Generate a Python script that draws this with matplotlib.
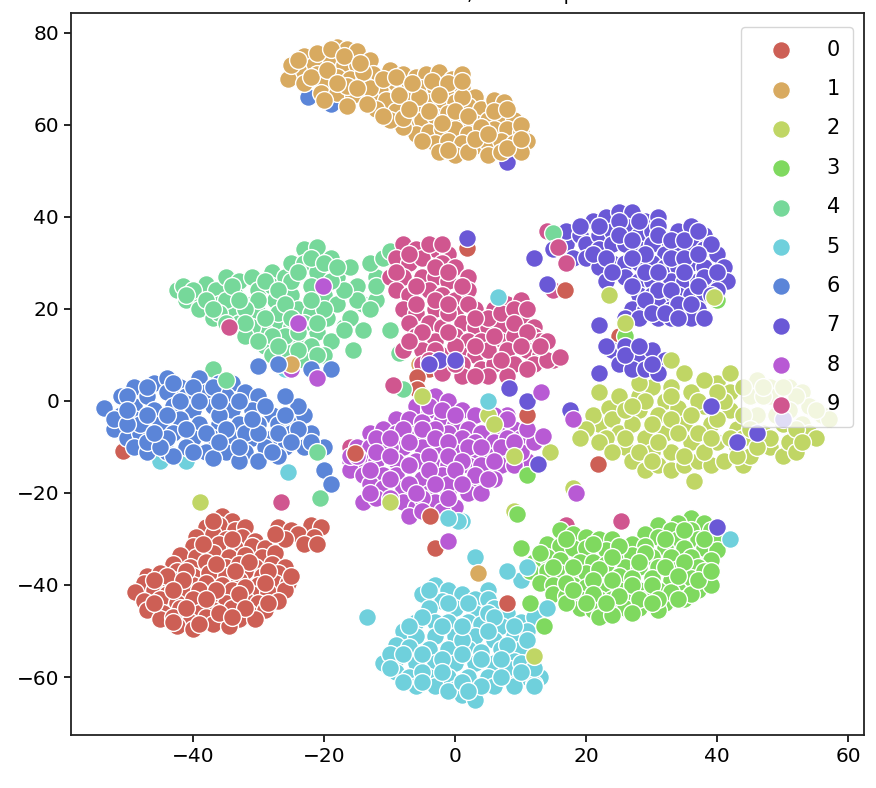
import matplotlib
matplotlib.use('Agg')
import matplotlib.pyplot as plt

# colours picked off the legend
colors = ['#cd5f55', '#d8aa60', '#c0d665', '#7fd95f', '#76d89a',
          '#6fd0dc', '#5b85d8', '#6a58d6', '#b85ad4', '#d0568f']
labels = ['0', '1', '2', '3', '4', '5', '6', '7', '8', '9']

# points, class by class
c0 = [(-35.5,-25),(-34,-26),(-38,-27.5),(-36,-27),(-33.5,-28),(-32,-27.5),(-39.5,-29.5),(-37,-29),(-35,-30),(-32.5,-29.5),(-30.5,-30.5),
      (-40,-31.5),(-38,-32),(-36,-31),(-33.5,-32),(-31,-31.5),(-29,-32),(-42,-33.5),(-39.5,-34),(-37,-33),(-34.5,-34),(-32,-33.5),(-29.5,-34),(-27.5,-33),
      (-43,-35.5),(-40.5,-36),(-38,-35),(-35,-36),(-33,-35.5),(-30.5,-36),(-28,-35.5),(-26,-36),(-47,-38),(-45,-37.5),(-42.5,-37),(-40,-38),(-37.5,-37.5),(-35,-38),(-32,-37),(-29.5,-38),(-27,-37.5),
      (-47.5,-39.5),(-45,-40),(-43,-39),(-40,-40),(-38,-39.5),(-35.5,-40),(-33,-39),(-30,-40),(-27.5,-39.5),(-25.5,-39.5),(-48.8,-41.5),(-46,-41),(-44,-42),(-41,-41.5),(-39,-41),(-36,-42),(-34,-41),(-31,-42),(-28.5,-41.5),(-26,-41),
      (-47.5,-43.5),(-45,-43),(-42.5,-44),(-40,-43),(-37.5,-43.5),(-35,-44),(-32,-43),(-30,-44),(-27,-43.5),(-47,-45.5),(-44.5,-46),(-42,-45),(-39,-46),(-37,-45.5),(-34,-45),(-31.5,-46),(-29,-45.5),
      (-45,-47.5),(-43,-47),(-40.5,-48),(-38,-47),(-35.5,-48),(-33,-47.5),(-30.5,-47.5),(-42.5,-49),(-40,-49.5),(-37,-48.5),(-34.5,-49),
      (-27,-27.5),(-25,-28),(-22,-27),(-20.5,-27.5),(-24,-29),(-21.5,-29.5),(-26,-30),(-23,-31),(-27.5,-29),(-21,-31),
      (-37,-26),(-34,-30),(-38.5,-31),(-31.5,-35),(-36.5,-35.5),(-41,-37),(-44,-38),(-33.5,-37),(-28.5,-37),(-46,-39),(-41.5,-39),(-36.5,-41),(-32,-40.5),(-29,-39.5),(-43,-41),(-38,-43),(-33,-42),(-28.5,-44),
      (-46,-44),(-41,-45),(-36,-46),(-32,-45),(-43,-48),(-39,-48.5),(-34,-47),(-25,-38)]
c1 = [(-23,75),(-21.5,73),(-18,77),(-16.5,76.5),(-15,76),(-13,74),(-24,72),(-21,71),(-19,74),(-17,73),(-15,73),(-12.5,71),(-10,72),(-8,71),(-6,70.5),
      (-25.5,70),(-23,69),(-20,69),(-18,70.5),(-16,70),(-14,69),(-11.5,68),(-9,69),(-7,68),(-4.5,71),(-2.5,71.5),(-0.5,70),(1,71),
      (-20.5,67),(-18,67),(-15.5,66.5),(-13,66),(-10.5,65.5),(-7.5,65.5),(-5,68),(-3,68),(-1,67.5),(1,68),(3,66),(-16.5,64),(-12,63.5),(-9,63),
      (-6,63),(-4,65),(-2,65),(0,65),(2,64),(4,63.5),(6,65.5),(7.5,65),(-7,60.5),(-5,61),(-3,62),(-1,62.5),(1,61),(3,60.5),(5,61),(7,62),(9,61),
      (-6,58),(-4,58.5),(-2,59),(0,59),(2,58),(4,58),(6,59),(8,59),(10,58.5),(-3,56),(-1,56.5),(1,56),(3,55.5),(5,56),(7,56.5),(9,56),(11,56.5),
      (-2.5,54),(0,53.5),(2,54),(5,53.5),(7,54),(10,54),(-8,59.5),(-10,61),(-13,68),(-21,75.5),(-19,76.5),
      (-25,73),(-22,70.5),(-19.5,72),(-16.5,68.5),(-14,71.5),(-11,70),(-8.5,66.5),(-5.5,66),(-3.5,69.5),(-1,69),(1,66),(-13.5,64.5),(-11,62),(-8,61.5),(-4,63),(-2,60.5),(0,63),(2,62),(4,59.5),(6,63),(8,63.5),
      (10,60),(-5,56.5),(-1,54.5),(3,57),(5,58),(8,55),(10,57),(-24,74),(-17,75),(-14.5,73.5),(-9,70.5),(-6.5,69),(-2.5,66.5),(1,69.5),(-7,63.5),(-18,69),(-20,65.5),(-15,68)]
c2 = [(22,-5),(21,-3),(23.5,-1.5),(25,1),(24,-4),(25,-7),(23,-8),(26,-10),(27,-13),(29,-15),(31,-14),(28,-2),(27,-5),(29,-8),(30,-11),(33,-15),(35,-14),
      (28,1),(30,3),(32,0),(31,-3),(32,-7),(33,-11),(34,-1.5),(36,2),(35,-5),(36,-9),(37,-13),(39,-14),(38,-1),(40,4),(38,4.5),(39,-5),(40,-9),(41,-13),(44,-14),
      (42,2),(42,-2),(43,-6),(43,-10),(45,-12),(45,1),(46,4.5),(48,3),(46,-3),(47,-7),(48,-10),(50,-12),(48,1),(51,3),(50,-1),(50,-5),(51,-9),(52,-11),
      (53,2),(54,-1),(53,-5),(54,-7),(56,-3),(57,-4),(55,-8),(31,7),(28,4),(35,6),(42,6),(33,-4),(37,-7),(44,-8),(26,-2),(30,-5),(47,1),(52,1),
      (20,-6),(22,-9),(24,-11),(28,-11),(31,-9),(34,-7),(29,0),(33,3),(37,0),(41,0),(44,-3),(40,-4),(38,-11),(35,-12),(42,-8),(45,-6),(49,-3),(48,-8),(52,-6),(55,-2),(44,3),(50,3),
      (26,-8),(30,-13),(40,2),(36,-3),(46,-10),(53,-9),(33,1),(27,-1),(39,-8),(43,-12),(47,3),(51,-2)]
c3 = [(36,-25.5),(34,-26.5),(38,-26.5),(31,-27),(33,-28),(36,-28),(39,-28),(29,-29),(31,-29.5),(34,-30),(37,-30),(40,-30),(16,-28),(18,-29),(20,-29.5),(22,-30),(24,-30),(27,-31),
      (29,-31.5),(32,-32),(35,-32),(38,-32),(40,-32.5),(14,-31),(16,-31.5),(18,-32),(20,-32),(23,-32.5),(25,-33),(27,-33.5),(30,-34),(33,-34),(36,-34),(39,-34.5),
      (12,-35),(14,-34),(16,-34.5),(19,-35),(21,-35),(23,-35.5),(26,-36),(28,-36),(31,-36),(34,-36.5),(37,-36),(11.5,-37),(14,-37),(16,-37.5),(18,-38),(20,-37.5),(22,-38),(25,-38),
      (27,-38.5),(30,-38.5),(33,-39),(36,-38.5),(13,-39.5),(15,-40),(18,-40),(20,-40.5),(23,-40.5),(25,-41),(28,-41),(31,-41),(34,-41),(37,-41),(39,-40),(15,-42),(17,-42.5),(19,-43),
      (22,-43),(24,-43),(26,-43.5),(29,-43),(32,-44),(35,-43),(19,-45),(21,-45.5),(23,-45.5),(26,-45),(28,-45),(31,-45.5),(22,-47),(36,-42),(33,-41.5),(24,-46.5),(17,-44),
      (13,-33),(17,-30),(21,-31),(25,-31.5),(29,-33),(32,-30),(35,-28),(38,-30),(15,-36),(18,-36),(22,-36.5),(24,-34),(28,-35),(32,-36),(35,-35),(38,-37),(17,-39.5),(21,-39),(24,-39),(27,-40),(30,-40),(34,-38),
      (18,-41),(21,-42),(25,-42.5),(28,-43),(31,-43),(34,-43),(20,-44),(23,-44),(27,-46),(30,-44),(37,-39),(39,-37)]
c4 = [(-42.5,24),(-41,22),(-41.5,25),(-39,23),(-38,25.5),(-36.5,24),(-36,21),(-39,20),(-35,27),(-33,26),(-33.5,23),(-31,27),(-30,24),(-28,28),(-31,21),(-34,19),(-37,18),(-33,17),
      (-30,19),(-28,25),(-26,27),(-25,30),(-27.5,22),(-25,23),(-23,33),(-21,33.5),(-23,30),(-21,28),(-22,25),(-24,20),(-27,17),(-29,15),(-25,16),(-22,19),(-19,31),(-18,27),(-20,23),
      (-19.5,18),(-16,29),(-15,25),(-14,21),(-18,21),(-17,16),(-21,15),(-24,13),(-26,11),(-22,12),(-19,13),(-29,12),(-31,16),(-26,14),(-20,10),(-23,9),(-28,10),(-15,22),(-12,22),(-12,27),(-13,30),
      (-11,31),(-10,32.5),(-12,25),(-16,18),(-13,20),(-17,24),(-25,26),(-30,22),(-35,22),(-40,24),(-36,19),(-32,14),(-27,19),(-23,17),(-20,20),
      (-38,22),(-34,25),(-32,20),(-29,26),(-27,24),(-26,21),(-24,28),(-22,31),(-20,30),(-29,18),(-32,17),(-35,17),(-28,14),(-24,15),(-22,22),(-19,26),(-21,17),(-18,29),(-25,18),(-30,13),(-27,12),(-24,11),(-21,10),(-33,22),(-37,20),(-41,23)]
c5 = [(-3,-40),(-1,-41),(1,-42),(3,-43),(5,-43),(-5,-42),(-2,-43.5),(0,-45),(3,-46),(6,-45),(8,-46),(-4,-45),(-6,-48),(-3,-48),(-1,-48),(2,-48),(4,-48.5),(7,-49),(10,-48),(12,-47),
      (-8,-50),(-6,-51),(-3,-51),(0,-51),(3,-51),(6,-52),(9,-51),(11,-50),(-9,-53),(-7,-53.5),(-4,-54),(-1,-54),(2,-54),(4,-54.5),(7,-54),(10,-54),(-11,-57),(-9,-56),(-6,-57),(-3,-57),
      (0,-57),(3,-57),(6,-57),(9,-56.5),(11,-57),(-9,-59),(-7,-60),(-4,-60),(-1,-60),(2,-60),(5,-60),(8,-59),(11,-60),(13,-60),(-6,-62),(-3,-62),(0,-62.5),(3,-63),(6,-62),(9,-62),(12,-61.5),
      (1,-64),(3,-65),(-1,-63),(-10,-55),(-5,-59),(1,-52),(5,-46),(8,-58),(10,-57),(12,-58),
      (-4,-41),(-1,-44),(2,-44),(6,-47),(9,-49),(-5,-47),(-7,-49),(-2,-49),(1,-49),(5,-50),(8,-53),(11,-52),(-8,-55),(-5,-55),(-2,-56),(1,-55),(4,-56),(7,-56),(-10,-58),(-8,-61),(-5,-61),(-2,-59),(1,-61),(4,-62),(7,-60),(10,-59),(12,-62),(2,-63)]
c6 = [(-53.5,-1.5),(-51,1),(-49,3),(-46,4),(-44,5),(-42,3),(-39,5),(-36,4),(-34,4),(-51,-3),(-49,-1),(-47,1),(-44,2),(-41,1),(-38,2),(-35,1),(-32,2),(-30,1),(-52,-6),(-49,-4),(-46,-2),
      (-43,-1),(-40,-2),(-37,-1),(-34,-2),(-31,-2),(-28,-3),(-50,-8),(-48,-7),(-45,-5),(-42,-4),(-39,-5),(-36,-5),(-33,-5),(-30,-5),(-27,-5),(-25,-4),(-23,-3),(-49,-10),(-46,-9),(-43,-7),
      (-40,-8),(-37,-8),(-34,-8),(-31,-8),(-28,-8),(-25,-7),(-22,-7),(-24,-1),(-26,1),(-47,-11),(-44,-11),(-41,-10),(-38,-11),(-35,-11),(-32,-11),(-29,-10),(-26,-10),(-23,-10),(-20,-10),
      (-43,-12),(-37,-12.5),(-33,-13),(-30,-13),(-27,-12),(-48,-5),(-36,-3),(-44,-3),(-52,-4),(-32,-7),(-41,-6),
      (-50,1),(-47,3),(-43,4),(-40,3),(-37,3),(-33,0),(-29,-1),(-50,-5),(-47,-3),(-42,0),(-39,0),(-36,0),(-26,-3),(-47,-9),(-44,-8),(-38,-7),(-35,-6),(-30,-7),(-27,-7),(-24,-6),(-45,-10),(-40,-11),(-36,-9),(-33,-10),(-28,-11),(-25,-9),(-22,-9),(-50,-2),(-46,-7),(-31,-4)]
c7 = [(17,37),(19,36),(21,39),(23,40),(25,41),(27,41),(29,39),(31,40),(20,34),(22,36),(24,37),(26,38),(28,36),(30,37),(32,35),(34,37),(36,38),(38,36),(18,31),(20,31),(22,33),(24,34),(26,34),
      (28,33),(30,34),(32,32),(34,33),(36,34),(38,33),(40,32),(22,29),(24,30),(26,30),(28,30),(30,30),(32,29),(34,29),(36,30),(38,29),(41,29),(23,26),(26,27),(28,26),(30,26),(33,26),(35,26),
      (37,26),(39,26),(41.5,26),(28,23),(30,23),(32,23),(34,23),(36,23),(38,23),(40,24),(27,20),(29,20),(31,21),(33,20),(35,20),(37,20),(26,18),(28,18),(31,18),(33,18),(36,18),(38,18),
      (24,11),(26,12),(28,10),(30,11),(32,9),(25,8),(27,7),(29,7),(31,6),(26,10),(23,12),
      (19,38),(22,38),(25,39),(28,39),(31,38),(21,32),(25,36),(27,35),(29,32),(31,36),(33,35),(35,35),(37,37),(39,34),(23,31),(27,31),(33,31),(35,31),(37,32),(24,28),(29,28),(31,28),(35,28),(38,27),(40,28),
      (27,25),(31,24),(33,24),(37,25),(39,23),(29,22),(34,21),(36,21),(30,19),(32,19),(34,18),(28,12),(30,8)]
c8 = [(-3,1),(-1,0),(1,-2),(3,-3),(-6,-1),(-4,-2),(-9,-4),(-7,-4),(-5,-4.5),(-2,-4),(0,-5),(2,-6),(4,-7),(7,-6),(9,-6),(-13,-7),(-11,-6),(-9,-7),(-6,-7),(-4,-7.5),(-1,-7),(1,-8),(3,-9),(6,-9),(8,-8),(10,-8),
      (-15,-10),(-13,-10),(-11,-9.5),(-8,-10),(-5,-10),(-2,-10),(0,-11),(3,-12),(5,-12),(8,-12),(10,-11),(12,-9),(-16,-13),(-14,-13),(-12,-13),(-9,-13),(-6,-13),(-3,-14),(-1,-14),(2,-14),(5,-15),(7,-14),(9,-14),
      (-16,-15),(-14,-16),(-11,-16),(-9,-16),(-5,-17),(-2,-16),(0,-17),(3,-18),(6,-17),(-13,-18),(-11,-19),(-8,-19),(-4,-20),(-1,-20),(2,-20),(4,-20),(-14,-22),(-12,-21),(-8,-22),(-6,-23),(-3,-22),(0,-23),
      (-7,-25),(-5,-21),(-1,-18),(-10,-10),(-3,-6),(6,-3),(-16,-12),
      (-4,-1),(-2,-2),(0,-3),(-8,-6),(-5,-6),(-3,-8),(-1,-9),(2,-10),(4,-10),(7,-10),(9,-9),(-12,-8),(-10,-8),(-7,-9),(-4,-12),(-1,-12),(1,-13),(4,-14),(6,-13),(-15,-12),(-12,-11),(-10,-12),(-7,-14),(-4,-15),
      (0,-15),(3,-16),(5,-17),(-13,-15),(-10,-17),(-7,-18),(-3,-18),(1,-18),(-13,-20),(-10,-21),(-6,-20),(-2,-24),(-5,-24),(-1,-21),(8,-4),(11,-6)]
c9 = [(-8,34),(-6,33),(-3,33),(-1,32),(-9,31),(-7,30),(-5,31),(-2,30),(0,29),(-10,27),(-8,27),(-5,27),(-3,27),(-1,26),(2,27),(-9,24),(-7,23),(-4,24),(-2,23),(0,22),(2,24),
      (-8,20),(-6,19),(-3,20),(0,19),(3,20),(6,20),(8,21),(10,22),(-7,17),(-4,17),(-2,16),(1,17),(3,16),(5,16),(7,16),(10,18),(12,16),(-6,14),(-3,13),(0,14),(2,13),(4,13),(7,13),(9,14),(12,14),(13,13),
      (-8,11),(-5,11),(-2,10),(1,10),(3,10),(6,10),(8,11),(11,11),(13,10),(15,9),(-5,8),(-2,7),(1,8),(4,7),(6,8),(9,8),(12,8),(14,9),(16,9.5),(-2,6),(1,5.5),(5,5.5),(8,5.5),(0,12),(-1,19),(5,11),(11,7),
      (-4,34),(-2,34),(-7,32),(-3,29),(-6,25),(-9,28),(-1,28),(1,25),(-6,21),(-3,22),(-1,21),(2,21),(5,18),(7,19),(9,20),(11,20),(-5,15),(-1,15),(3,18),(6,14),(9,17),(11,15),(14,13),(-7,13),(-3,11),(0,8),(3,12),(7,9),(10,12),(13,12),(3,5.5),(-4,9)]

# strays that sit clear of the groups or on top of them
o0 = [(1.8,33.3),(11,-3),(21.8,-13.7),(-5.8,5.2),(-5.8,2.5),(-3,-32),(-3.8,-25),(-15.3,-11.3),(16.8,24),(8,-44)]
o1 = [(3.5,-37.5),(-25,8)]
o2 = [(-38.9,-22),(-5,1),(5,-3),(9,-12),(9,-24),(14.5,-11),(19,-8),(23.5,23),(26,17),(33,9),(39.5,22.5),(36.5,-17.5),(-10,-22),(12,-55.5),(18,-19),(22,2),(6,-5)]
o3 = [(11,-16),(9.5,-24.5),(10,-32),(13.5,-49),(11.5,-44)]
o4 = [(-35,4.5),(-21,-11),(-20.6,-21),(-8,2.5),(-14,15.5),(-17,15.5),(-10,15.5),(-15.5,11),(15,36.5)]
o5 = [(-13.5,-47),(5,0),(0.5,-26),(-25.5,-15.5),(8,-37),(11,-36),(6.5,22.5),(42,-30),(14,-45),(-1,-25.5)]
o6 = [(-27,8),(-30,7.5),(-22,7),(-19,7),(-20,-15),(-19,-18)]
o7 = [(1.8,35.5),(14,25.5),(12,31),(22,16.5),(-2.5,9),(8.2,2.8),(17.5,-2),(12.7,-13.7),(40,-27.5),(46,-7),(39,-1),(50,-4),(-4,8),(0,9),(15,33),(11,0),(43,-9)]
o8 = [(-20.1,25),(-24,17),(-21,5),(13.1,2),(13.4,-7.6),(-1,-30.4),(18.5,-20),(18,-4)]
o9 = [(-34.5,16),(-26.5,-22),(-9.5,3.5),(15.7,33.5),(25.3,-26),(17,30)]

# ones that only peek out from under a group
u0 = [(-50.7,-10.9),(-4,7),(25,14)]
u1 = [(-5.5,8)]
u3 = [(40,22),(26,14)]
u4 = [(-8.5,10.5),(-37,7),(5,-8)]
u5 = [(-45,-13),(-41,-13),(3,-34),(1,-26),(-26,7),(10,-39),(5,-41)]
u6 = [(-22.5,66),(-19,64.5),(-26,8)]
u7 = [(8,52),(17,34),(22,6)]
u8 = [(-25,7),(-3,8),(8,-3),(11,-13)]
u9 = [(14,37),(15,24),(-16,-10),(17,-27),(10,57)]

groups = [c0, c1, c2, c3, c4, c5, c6, c7, c8, c9]
strays = [o0, o1, o2, o3, o4, o5, o6, o7, o8, o9]
under = [u0, u1, [], u3, u4, u5, u6, u7, u8, u9]

fig = plt.figure(figsize=(8.76, 7.88), dpi=100)
ax = fig.add_axes([71/876, 1 - 735/788, (864 - 71)/876, (735 - 13)/788])

for i, pts in enumerate(under):
    ax.scatter([p[0] for p in pts], [p[1] for p in pts], s=165, color=colors[i],
               edgecolor='white', linewidth=1.0, zorder=2)
for i, pts in enumerate(groups):
    ax.scatter([p[0] for p in pts], [p[1] for p in pts], s=165, color=colors[i],
               edgecolor='white', linewidth=1.0, label=labels[i], zorder=3)
for i, pts in enumerate(strays):
    ax.scatter([p[0] for p in pts], [p[1] for p in pts], s=165, color=colors[i],
               edgecolor='white', linewidth=1.0, zorder=4)

ax.set_xlim(-58.6, 62.4)
ax.set_ylim(-72.6, 84.3)
ax.set_xticks([-40, -20, 0, 20, 40, 60])
ax.set_yticks([-60, -40, -20, 0, 20, 40, 60, 80])
ax.tick_params(labelsize=14.5, width=1.2, length=5)
for s in ax.spines.values():
    s.set_linewidth(1.3)
    s.set_color('#222222')

# top of the title is cut off by the image edge in the reference
ax.set_title('MNIST data T-SNE, in 2 components', fontsize=14, pad=9.4)

leg = ax.legend(loc='upper right', fontsize=15, labelspacing=0.93, borderpad=0.62,
                handletextpad=0.9, handlelength=2.6, framealpha=0.8,
                bbox_to_anchor=(0.986, 0.981), borderaxespad=0)
leg.set_zorder(5)

fig.savefig('out.png', dpi=100)
